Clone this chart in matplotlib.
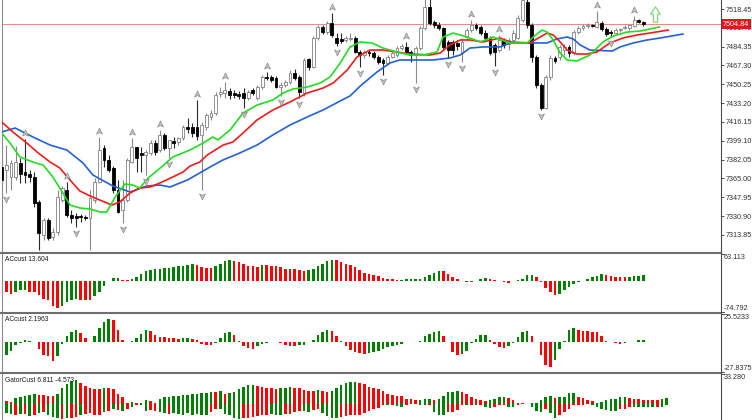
import matplotlib
matplotlib.use("Agg")
import matplotlib.pyplot as plt
from matplotlib.path import Path
from matplotlib.lines import Line2D
from matplotlib.transforms import offset_copy

plt.rcParams['font.family'] = ['Liberation Sans Narrow', 'Liberation Sans', 'DejaVu Sans']

# ---------------- price bars ----------------
opens = [
    7375.5, 7372.8, 7366.4, 7366.4, 7379.1, 7370.9, 7369.1, 7366.4, 7343.8, 7313.9,
    7327.5, 7312.1, 7316.6, 7345.6, 7354.6, 7332.0, 7331.1, 7331.1, 7330.2, 7329.3,
    7345.6, 7361.9, 7392.7, 7381.8, 7374.6, 7354.6, 7336.6, 7345.6, 7380.0, 7393.6,
    7388.1, 7386.3, 7388.1, 7397.2, 7390.9, 7404.4, 7392.7, 7399.0, 7398.1, 7401.7,
    7411.7, 7411.7, 7411.7, 7404.4, 7411.7, 7420.7, 7424.3, 7441.5, 7442.4, 7444.2,
    7442.4, 7441.5, 7442.4, 7437.9, 7445.2, 7437.9, 7447.9, 7456.9, 7456.9, 7456.0,
    7447.9, 7449.7, 7452.4, 7460.5, 7456.9, 7442.4, 7473.2, 7466.0, 7492.2, 7502.2,
    7497.6, 7505.8, 7492.2, 7491.3, 7490.4, 7491.3, 7492.2, 7479.5, 7476.8, 7479.5,
    7478.6, 7475.0, 7472.3, 7469.6, 7475.0, 7476.8, 7483.2, 7484.1, 7479.5, 7476.8,
    7483.2, 7501.3, 7520.3, 7506.7, 7504.0, 7501.3, 7488.6, 7488.6, 7487.7, 7478.6,
    7493.1, 7499.5, 7504.0, 7502.2, 7496.7, 7492.2, 7485.9, 7481.4, 7490.4, 7486.8,
    7490.4, 7492.2, 7508.5, 7524.8, 7504.0, 7475.0, 7449.7, 7428.9, 7456.9, 7474.1,
    7475.0, 7481.4, 7484.1, 7478.6, 7497.6, 7501.3, 7503.1, 7504.0, 7502.2, 7505.8,
    7500.4, 7497.6, 7496.7, 7499.5, 7501.3, 7501.3, 7503.1, 7508.5, 7506.7]
highs = [
    7381.8, 7395.4, 7381.8, 7394.0, 7383.6, 7400.8, 7372.7, 7370.9, 7345.6, 7329.3,
    7329.3, 7320.3, 7354.6, 7358.3, 7361.9, 7336.6, 7333.9, 7332.9, 7332.0, 7354.6,
    7365.5, 7402.6, 7395.4, 7386.3, 7376.4, 7363.7, 7363.7, 7383.6, 7401.7, 7393.6,
    7393.6, 7390.9, 7399.9, 7399.9, 7409.0, 7406.2, 7399.9, 7402.6, 7402.6, 7413.5,
    7419.8, 7415.3, 7436.1, 7416.2, 7424.3, 7427.1, 7443.3, 7447.9, 7452.4, 7447.0,
    7445.2, 7444.2, 7447.0, 7445.2, 7447.0, 7449.7, 7458.7, 7461.4, 7458.7, 7457.8,
    7452.4, 7454.2, 7463.3, 7464.2, 7458.7, 7474.1, 7474.1, 7494.0, 7504.0, 7504.0,
    7507.6, 7514.8, 7496.7, 7496.7, 7494.0, 7496.7, 7494.0, 7481.4, 7481.4, 7481.4,
    7480.4, 7476.8, 7474.1, 7476.8, 7480.4, 7485.0, 7486.8, 7488.6, 7481.4, 7485.0,
    7503.1, 7529.3, 7528.4, 7508.5, 7506.7, 7502.2, 7490.4, 7490.4, 7490.4, 7492.2,
    7501.3, 7508.5, 7505.8, 7504.0, 7499.5, 7494.0, 7487.7, 7494.9, 7492.2, 7492.2,
    7499.5, 7513.0, 7531.1, 7531.1, 7505.8, 7476.8, 7451.5, 7458.7, 7476.8, 7475.9,
    7485.9, 7486.8, 7485.9, 7499.5, 7503.1, 7504.9, 7505.8, 7504.9, 7516.6, 7507.6,
    7502.2, 7499.5, 7501.3, 7501.3, 7504.0, 7504.9, 7512.1, 7509.4, 7507.6]
lows = [
    7359.2, 7351.9, 7354.6, 7363.7, 7361.0, 7361.0, 7361.9, 7339.3, 7300.4, 7309.4,
    7309.4, 7309.4, 7313.9, 7343.8, 7330.2, 7324.8, 7321.2, 7325.7, 7327.5, 7300.4,
    7342.9, 7361.0, 7375.5, 7370.9, 7351.9, 7333.8, 7324.8, 7343.8, 7379.1, 7370.9,
    7370.9, 7368.2, 7386.3, 7386.3, 7389.0, 7390.9, 7383.6, 7392.7, 7395.4, 7399.9,
    7406.2, 7402.6, 7399.9, 7354.6, 7409.0, 7418.0, 7422.5, 7438.8, 7437.9, 7437.0,
    7437.9, 7437.0, 7428.9, 7436.1, 7440.6, 7436.1, 7446.1, 7454.2, 7452.4, 7447.0,
    7439.7, 7447.9, 7450.6, 7454.2, 7437.9, 7439.7, 7463.3, 7465.1, 7490.4, 7495.8,
    7495.8, 7493.1, 7485.0, 7487.7, 7488.6, 7489.5, 7478.6, 7466.0, 7474.1, 7475.9,
    7473.2, 7468.7, 7458.7, 7467.8, 7474.1, 7475.0, 7481.4, 7477.7, 7470.5, 7451.5,
    7481.4, 7499.5, 7504.0, 7501.3, 7499.5, 7481.4, 7474.1, 7476.8, 7481.4, 7470.5,
    7490.4, 7497.6, 7499.5, 7494.9, 7490.4, 7476.8, 7466.9, 7479.5, 7483.2, 7481.4,
    7488.6, 7491.3, 7506.7, 7501.3, 7470.5, 7447.0, 7427.0, 7428.0, 7454.2, 7469.6,
    7472.3, 7476.8, 7475.0, 7476.8, 7495.8, 7499.5, 7501.3, 7502.2, 7501.3, 7498.5,
    7494.0, 7493.1, 7494.9, 7497.6, 7500.4, 7499.5, 7502.2, 7505.8, 7503.1]
closes = [
    7363.7, 7377.3, 7379.1, 7380.0, 7369.1, 7368.2, 7366.4, 7342.9, 7315.7, 7327.5,
    7311.2, 7316.6, 7348.3, 7356.5, 7332.0, 7329.3, 7329.3, 7330.2, 7329.3, 7347.4,
    7361.9, 7390.9, 7381.8, 7372.7, 7354.6, 7334.7, 7345.6, 7381.8, 7393.6, 7383.6,
    7386.3, 7389.0, 7397.2, 7389.0, 7404.4, 7392.7, 7399.9, 7397.2, 7401.7, 7411.7,
    7409.9, 7406.2, 7403.5, 7413.5, 7422.5, 7424.3, 7440.6, 7443.3, 7445.2, 7440.6,
    7440.6, 7439.7, 7437.9, 7443.3, 7442.4, 7447.9, 7456.9, 7456.0, 7454.2, 7447.9,
    7449.7, 7452.4, 7460.5, 7456.0, 7443.3, 7472.3, 7466.0, 7492.2, 7502.2, 7497.6,
    7505.8, 7494.9, 7487.7, 7489.5, 7492.2, 7492.2, 7479.5, 7476.8, 7479.5, 7478.6,
    7475.0, 7470.5, 7469.6, 7475.0, 7478.6, 7483.2, 7485.0, 7479.5, 7476.8, 7483.2,
    7501.3, 7520.3, 7505.8, 7504.0, 7501.3, 7484.1, 7481.4, 7481.4, 7485.0, 7488.6,
    7499.5, 7504.0, 7501.3, 7496.7, 7492.2, 7478.6, 7479.5, 7490.4, 7485.9, 7490.4,
    7496.7, 7510.3, 7526.6, 7504.0, 7475.0, 7449.7, 7428.9, 7456.9, 7474.1, 7471.4,
    7484.1, 7484.1, 7478.6, 7497.6, 7501.3, 7503.1, 7504.0, 7503.5, 7506.7, 7500.4,
    7495.8, 7496.7, 7499.5, 7500.4, 7502.2, 7504.0, 7508.5, 7506.7, 7504.84]
last_price = 7504.84
price_ticks = [7518.45, 7501.40, 7484.35, 7467.30, 7450.25, 7433.20, 7416.15,
               7399.10, 7382.05, 7365.00, 7347.95, 7330.90, 7313.85]

up_fractals = [5, 14, 21, 28, 34, 42, 48, 57, 71, 87, 101, 107, 128, 136]
down_fractals = [1, 16, 19, 26, 31, 36, 43, 52, 60, 64, 72, 77, 82, 89, 96, 99,
                 106, 116, 131]
signal_bar, signal_price = 140.5, 7514.3

# ---------------- alligator lines ----------------
jaw_bars = [0, 2.9, 6.7, 10.4, 14.0, 17.5, 19.6, 23.9, 27.6, 31.2, 34.0, 36.2, 39.9,
            42.6, 44.8, 47.6, 51.2, 54.9, 58.3, 62.0, 65.7, 69.1, 72.8, 74.9, 77.1,
            80.7, 83.5, 85.6, 92.8, 96.4, 98.6, 100.7, 103.5, 107.2, 109.3, 117.3,
            119.4, 121.6, 122.9, 124.4, 126.5, 131.3, 133.0, 135.8, 138.8, 141.6, 146.5]
jaw_vals = [7407.1, 7410.7, 7402.6, 7395.3, 7390.8, 7379.0, 7368.2, 7358.2, 7352.8,
            7358.2, 7359.1, 7357.3, 7363.6, 7370.0, 7375.4, 7381.8, 7388.1, 7395.3,
            7404.4, 7413.4, 7420.7, 7427.0, 7435.2, 7439.7, 7448.7, 7461.4, 7469.6,
            7472.3, 7472.3, 7474.1, 7476.8, 7483.1, 7484.1, 7484.1, 7487.7, 7487.7,
            7491.3, 7493.1, 7491.3, 7485.9, 7481.3, 7480.4, 7484.1, 7487.7, 7490.4,
            7492.2, 7495.8]
teeth_bars = [0, 2.4, 5.4, 7.6, 10.4, 12.5, 14.7, 16.8, 19.0, 21.1, 23.7, 25.4, 27.6,
              29.7, 31.9, 34.0, 36.8, 39.0, 40.5, 42.6, 44.2, 47.6, 49.7, 51.9, 54.9,
              58.3, 62.0, 65.7, 69.1, 71.3, 74.3, 76.4, 79.2, 82.0, 85.0, 87.8, 92.1,
              94.3, 96.4, 98.6, 100.7, 103.5, 107.2, 109.3, 113.6, 115.8, 117.3, 118.6,
              120.1, 121.6, 123.7, 125.9, 128.0, 130.8, 133.6, 136.6, 139.4, 143.3]
teeth_vals = [7416.2, 7407.1, 7397.1, 7389.0, 7379.9, 7374.5, 7363.6, 7353.7, 7349.2,
              7345.5, 7341.0, 7343.7, 7351.9, 7356.4, 7357.3, 7360.9, 7366.4, 7370.9,
              7376.3, 7379.9, 7386.3, 7395.3, 7398.0, 7406.2, 7418.0, 7427.0, 7434.3,
              7442.4, 7446.9, 7451.5, 7463.2, 7475.0, 7481.3, 7481.3, 7479.5, 7477.7,
              7476.8, 7478.6, 7485.9, 7490.4, 7490.4, 7488.6, 7492.2, 7488.6, 7487.7,
              7493.1, 7496.7, 7494.9, 7488.6, 7481.3, 7477.7, 7477.7, 7479.5, 7487.7,
              7492.2, 7494.9, 7496.7, 7499.4]
lips_bars = [0, 1.8, 3.9, 6.7, 8.9, 11.0, 13.0, 14.7, 16.8, 19.0, 21.1, 22.6, 24.4,
             26.5, 28.2, 29.7, 31.5, 33.6, 36.8, 40.5, 43.3, 45.4, 46.5, 49.1, 51.9,
             54.9, 58.3, 60.5, 62.6, 65.7, 68.5, 70.6, 72.8, 74.9, 77.1, 79.6, 82.0,
             85.0, 87.8, 90.6, 93.6, 94.9, 97.1, 100.1, 102.9, 105.7, 109.3, 113.0,
             114.3, 116.2, 117.3, 118.6, 120.1, 121.6, 123.7, 126.5, 129.3, 131.5,
             134.5, 137.3, 141.4]
lips_vals = [7406.2, 7397.1, 7384.5, 7379.9, 7377.2, 7366.4, 7352.8, 7341.0, 7338.3,
             7337.4, 7334.7, 7334.7, 7348.3, 7360.0, 7359.1, 7356.4, 7365.5, 7372.7,
             7384.5, 7390.8, 7397.1, 7402.6, 7399.9, 7408.9, 7424.3, 7431.5, 7436.1,
             7442.4, 7446.0, 7447.8, 7451.5, 7456.9, 7469.6, 7484.1, 7488.6, 7487.7,
             7483.1, 7479.5, 7476.8, 7476.8, 7479.5, 7493.1, 7496.7, 7493.1, 7488.6,
             7493.1, 7487.7, 7487.7, 7493.1, 7499.4, 7497.6, 7490.4, 7478.6, 7472.3,
             7471.4, 7476.8, 7488.6, 7494.0, 7497.6, 7498.5, 7502.2]

# ---------------- oscillators ----------------
ac1_vals = [
    -26.2, -27.7, -30.1, -26.2, -22.2, -21.5, -26.2, -27.0, -34.1, -42.0,
    -46.0, -60.2, -63.4, -59.4, -49.9, -46.0, -43.6, -44.4, -45.2, -46.0,
    -35.7, -26.2, -11.9, -0.8, 7.1, 7.9, 2.4, 1.6, 5.5, 9.5,
    15.1, 23.0, 26.9, 27.7, 29.3, 30.1, 31.7, 33.3, 34.9, 35.7,
    38.8, 39.6, 38.8, 33.3, 31.7, 30.9, 35.7, 39.6, 48.3, 49.1,
    48.3, 45.2, 41.2, 35.7, 34.9, 34.1, 37.3, 36.5, 35.7, 34.9,
    33.3, 29.3, 28.5, 27.7, 25.4, 23.8, 26.9, 29.3, 35.7, 41.2,
    46.8, 50.7, 49.9, 45.2, 41.2, 37.3, 33.3, 25.4, 19.8, 15.1,
    13.5, 11.1, 7.9, 5.5, 4.0, 2.4, 2.5, 3.2, 4.0, 4.8,
    5.5, 9.5, 13.5, 19.8, 23.8, 23.0, 15.1, 9.5, 3.2, 0.0,
    -2.4, -1.6, 0.0, 3.2, 7.9, 5.5, 2.4, 0.0, -1.6, -4.0,
    -0.8, 1.6, 5.5, 13.5, 14.3, 9.5, -2.4, -18.2, -26.2, -32.5,
    -30.1, -20.6, -14.3, -7.1, -2.4, 0.8, 4.0, 9.5, 11.9, 15.1,
    13.5, 11.9, 9.5, 8.7, 8.3, 9.5, 11.1, 11.9, 13.6]
ac1_cols = ("rrrgggrrrr" "rrrggggrrr" "ggggggrrgg" "gggggggggg" "ggrrrrgggg"
            "rrrrrrgrrr" "rrrrrrgggg" "ggrrrrrrrr" "rrrrrrgggg" "gggggrrrrr"
            "rggggrrrrr" "gggggrrrrr" "gggggggggg" "rrrrrgggg")

ac2_vals = [
    -19.3, -11.7, -8.0, -2.5, -0.9, 1.5, 0.9, 0.0, -6.1, -11.7,
    -13.2, -17.8, -13.2, -1.8, 5.2, 9.2, 10.7, 8.3, 3.7, 0.0,
    5.2, 12.9, 18.1, 21.5, 20.5, 11.3, 2.1, 0.0, 0.6, 3.7,
    7.7, 10.7, 10.4, 6.1, 4.6, 4.3, 4.0, 3.7, 3.1, 3.4,
    3.7, 2.8, 1.5, -1.5, -2.5, -2.8, -0.6, 3.7, 8.3, 9.2,
    6.7, 0.6, -4.0, -5.5, -6.1, -4.0, -1.8, -0.6, 0.0, -0.3,
    -1.2, -3.1, -3.4, -3.7, -3.1, -2.5, -0.3, 2.1, 6.1, 9.2,
    11.3, 10.4, 5.2, 0.6, -4.0, -7.1, -9.5, -10.1, -11.0, -10.1,
    -9.2, -8.0, -6.1, -4.9, -4.0, -2.5, -1.5, -0.3, -0.15, 0.3,
    0.9, 5.2, 7.7, 9.2, 9.8, 5.2, 0.0, -9.2, -11.7, -11.0,
    -8.0, -1.2, 3.1, 6.1, 6.7, 2.1, -1.8, -4.9, -5.5, -4.0,
    -0.9, 4.3, 9.2, 9.8, 5.2, 0.0, -11.7, -20.9, -23.3, -16.3,
    -6.1, 0.6, 11.3, 12.9, 11.3, 10.4, 9.8, 9.2, 8.9, 5.2,
    1.2, 0.0, -0.9, -1.8, -1.2, -0.3, 0.3, 1.5, 2.2]
ac2_cols = ("rgggggrrrr" "rrgggggrrr" "ggggrrrrgg" "ggrrrrrrrg" "grrrrrgggg"
            "rrrrrggggr" "rrrrgggggg" "grrrrrrrrg" "ggggggggrg" "gggggrrrrg"
            "gggggrrrrg" "ggggrrrrrg" "ggggrrrrrr" "rrrrggggg")

gator_up = [
    3.7, 2.6, 1.8, 6.2, 7.3, 8.4, 9.9, 11.0, 9.9, 10.2,
    9.2, 9.2, 11.0, 18.3, 22.0, 25.6, 26.7, 23.8, 20.1, 17.6,
    17.2, 16.8, 18.3, 17.6, 16.5, 11.0, 7.3, 1.1, 1.8, 0.7,
    1.3, 3.7, 2.6, 1.1, 4.8, 7.3, 7.5, 8.4, 9.2, 9.9,
    10.2, 11.0, 11.2, 12.1, 12.3, 13.5, 12.8, 14.6, 11.0, 12.1,
    12.8, 16.5, 19.4, 20.9, 21.0, 20.1, 19.4, 18.3, 18.2, 17.2,
    17.4, 18.3, 19.0, 18.3, 18.2, 15.7, 14.6, 14.5, 15.7, 13.9,
    13.5, 14.6, 18.3, 21.2, 23.8, 24.9, 25.0, 23.8, 22.0, 19.4,
    18.3, 16.5, 13.9, 11.0, 9.9, 9.2, 8.4, 5.5, 4.8, 3.7,
    4.4, 4.8, 5.5, 3.7, 5.5, 8.4, 12.8, 12.8, 14.6, 12.8,
    11.0, 7.3, 4.8, 3.7, 2.6, 3.7, 4.8, 7.3, 7.4, 6.2,
    3.7, 0.7, 0.3, 0.2, 0.3, 1.1, 3.7, 7.3, 9.2, 6.2,
    7.3, 7.4, 11.7, 12.1, 7.3, 6.2, 4.4, 2.6, 1.1, 1.8,
    3.7, 5.5, 5.6, 7.3, 7.4, 6.2, 5.5, 4.8, 4.75, 4.7,
    4.65, 4.6, 5.8, 6.8]
gator_up_cols = ("grrgggggrr" "rrgggggrrr" "rrgrrrrrgr" "ggrrgggggg" "ggggggrgrg"
                 "gggggrrrrr" "gggrrrrrgr" "rggggggrrr" "rrrrrrrrrr" "gggrgggggr"
                 "rrrrrggggr" "rrrrrggggr" "ggggrrrrrg" "gggggrrrrr" "rrgg")
gator_dn = [
    -9.9, -11.0, -11.1, -12.8, -12.1, -12.1, -13.9, -12.8, -11.0, -9.2,
    -12.8, -14.6, -16.5, -17.2, -16.5, -16.5, -14.6, -12.8, -12.1, -11.0,
    -12.8, -12.8, -9.2, -8.4, -6.2, -7.3, -8.4, -6.2, -3.7, -1.1,
    -1.8, -8.4, -7.3, -8.4, -9.9, -11.0, -12.1, -11.0, -12.1, -12.8,
    -11.0, -12.8, -12.1, -12.8, -12.8, -9.2, -6.2, -6.2, -12.1, -12.8,
    -15.7, -17.2, -16.5, -15.7, -14.6, -13.5, -12.8, -12.8, -12.1, -12.8,
    -12.8, -12.1, -11.3, -9.2, -8.4, -8.4, -9.2, -7.3, -6.2, -11.0,
    -13.5, -16.5, -16.5, -14.6, -13.5, -12.8, -12.8, -12.8, -11.0, -8.4,
    -6.2, -4.8, -1.8, -1.8, -1.1, -2.9, -3.7, -1.1, -0.7, -0.4,
    -1.1, -1.8, -1.5, -9.2, -12.8, -12.8, -9.2, -9.2, -7.3, -1.8,
    -1.8, -1.8, -1.8, -1.1, -3.7, -4.8, -3.7, -1.8, -1.8, -3.7,
    -3.7, -1.8, -0.7, -0.4, -3.7, -8.4, -9.9, -5.5, -11.0, -15.7,
    -12.8, -9.2, -5.5, -1.8, -1.8, -1.1, -0.7, -1.1, -3.7, -6.2,
    -7.3, -8.4, -8.4, -5.5, -5.5, -3.7, -3.7, -3.7, -3.7, -3.7,
    -4.0, -3.7, -3.7, -1.1]
gator_dn_cols = ("gggrgrgrgr" "gggrgrrgrr" "rrgrgrgrgr" "ggrrggrggg" "gggggrrggg"
                 "ggrrrrrrgg" "grrrrggrrg" "gggrrrrrrr" "rrrgrggrrr" "ggrgggrrrr"
                 "grgrggrrrg" "grrrgggrgg" "rrrrrrrggg" "gggrrrgggg" "grgg")

# ---------------- layout (pixels) ----------------
W, H = 752, 420
PX0, STEP = 1.7, 4.65      # pixel of first bar, bar pitch
AX_L, AX_R = 2, 721
GREEN, RED = '#008000', '#ff0000'
LABEL_FS = 5.2

fig = plt.figure(figsize=(W / 100, H / 100), dpi=100)
fig.patch.set_facecolor('white')


def panel(top, bottom):
    ax = fig.add_axes([AX_L / W, 1 - bottom / H, (AX_R - AX_L) / W, (bottom - top) / H])
    ax.set_xlim((AX_L - PX0) / STEP, (AX_R - PX0) / STEP)
    for side in ('top', 'bottom', 'right'):
        ax.spines[side].set_visible(False)
    ax.spines['left'].set_color('#8c8c8c')
    ax.spines['left'].set_linewidth(0.8)
    ax.set_xticks([])
    ax.yaxis.tick_right()
    ax.tick_params(axis='y', direction='out', length=2.5, width=0.6, pad=1.2,
                   labelsize=LABEL_FS, colors='#303030')
    return ax


def edge_labels(ax, top_txt, bottom_txt=None):
    ax.set_yticks([])
    tr = offset_copy(ax.transAxes, fig=fig, x=3, units='dots')
    ax.text(1, 1, top_txt, transform=tr, ha='left', va='top', fontsize=LABEL_FS, color='#303030')
    if bottom_txt:
        ax.text(1, 0, bottom_txt, transform=tr, ha='left', va='bottom',
                fontsize=LABEL_FS, color='#303030')
    for yy in ([1, 0] if bottom_txt else [1]):
        ax.plot([1, 1.004], [yy, yy], transform=ax.transAxes, color='#303030',
                lw=0.6, clip_on=False)


# ---------------- main chart ----------------
ax = panel(0, 252.5)
ax.set_ylim(7298.0, 7526.6)
ax.set_yticks(price_ticks, labels=[f'{p:.2f}' for p in price_ticks])

idx = list(range(len(opens)))
bull = [c >= o for o, c in zip(opens, closes)]
ax.axhline(last_price, color='#e27474', lw=0.6, zorder=1)
ax.vlines(idx, lows, highs, colors=['#8a8a8a' if b else '#2a2a2a' for b in bull],
          lw=0.8, zorder=2)
ax.bar(idx, [max(abs(c - o), 0.25) for o, c in zip(opens, closes)],
       bottom=[min(o, c) for o, c in zip(opens, closes)], width=0.62,
       color=['white' if b else 'black' for b in bull],
       edgecolor=['#808080' if b else 'black' for b in bull], linewidth=0.6, zorder=3)

ax.plot(jaw_bars, jaw_vals, color='#2361d6', lw=1.2, zorder=4, solid_joinstyle='round')
ax.plot(teeth_bars, teeth_vals, color='#f01c1c', lw=1.2, zorder=4, solid_joinstyle='round')
ax.plot(lips_bars, lips_vals, color='#22dd22', lw=1.2, zorder=4, solid_joinstyle='round')

up_mark = Path([(0, 1), (0.85, -0.75), (0, -0.3), (-0.85, -0.75), (0, 1)],
               [Path.MOVETO, Path.LINETO, Path.LINETO, Path.LINETO, Path.CLOSEPOLY])
dn_mark = Path([(0, -1), (0.85, 0.75), (0, 0.3), (-0.85, 0.75), (0, -1)],
               [Path.MOVETO, Path.LINETO, Path.LINETO, Path.LINETO, Path.CLOSEPOLY])
ax.plot(up_fractals, [highs[i] for i in up_fractals], ls='none', marker=up_mark, ms=5,
        mfc='#c4c4c4', mec='#8a8a8a', mew=0.5, zorder=5,
        transform=offset_copy(ax.transData, fig=fig, y=6, units='dots'))
ax.plot(down_fractals, [lows[i] for i in down_fractals], ls='none', marker=dn_mark, ms=5,
        mfc='#c4c4c4', mec='#8a8a8a', mew=0.5, zorder=5,
        transform=offset_copy(ax.transData, fig=fig, y=-6, units='dots'))

arrow = Path([(-0.28, -1), (0.28, -1), (0.28, 0.05), (0.62, 0.05), (0, 1),
              (-0.62, 0.05), (-0.28, 0.05), (-0.28, -1)],
             [Path.MOVETO] + [Path.LINETO] * 6 + [Path.CLOSEPOLY])
ax.plot([signal_bar], [signal_price], ls='none', marker=arrow, ms=11, mfc='white',
        mec='#7ed87e', mew=0.9, zorder=6)

ax.text(1.0, last_price, f'{last_price:.2f}', fontsize=LABEL_FS, color='white',
        ha='left', va='center', zorder=10,
        transform=offset_copy(ax.get_yaxis_transform(), fig=fig, x=2, units='dots'),
        bbox=dict(boxstyle='square,pad=0.18', fc='#e01818', ec='none'))

# ---------------- indicator panels ----------------
def colors(code):
    return [GREEN if ch == 'g' else RED for ch in code]


ac1 = panel(254.3, 312.3)
ac1.set_ylim(-74.792, 63.113)
ac1.bar(idx, ac1_vals, width=0.55, color=colors(ac1_cols), lw=0)
edge_labels(ac1, '63.113', '-74.792')
ac1.text(0.004, 0.97, 'ACcust 13.604', transform=ac1.transAxes, fontsize=4.8,
         ha='left', va='top', color='#1a1a1a')

ac2 = panel(314.3, 372.3)
ac2.set_ylim(-27.8375, 25.5233)
ac2.bar(idx, ac2_vals, width=0.55, color=colors(ac2_cols), lw=0)
edge_labels(ac2, '25.5233', '-27.8375')
ac2.text(0.004, 0.97, 'ACcust 2.1963', transform=ac2.transAxes, fontsize=4.8,
         ha='left', va='top', color='#1a1a1a')

gt = panel(374.3, 420)
gt.set_ylim(-18.45, 33.28)
gidx = list(range(len(gator_up)))
gt.bar(gidx, gator_up, width=0.55, color=colors(gator_up_cols), lw=0)
gt.bar(gidx, gator_dn, width=0.55, color=colors(gator_dn_cols), lw=0)
edge_labels(gt, '33.280')
gt.text(0.004, 0.95, 'GatorCust 6.811 -4.573', transform=gt.transAxes, fontsize=4.8,
        ha='left', va='top', color='#1a1a1a')

# panel separators and price-scale border
for y in (253.3, 313.3, 373.3):
    fig.add_artist(Line2D([0, AX_R / W], [1 - y / H] * 2, color='#6e6e6e', lw=1.5))
fig.add_artist(Line2D([AX_R / W] * 2, [0, 1], color='#4a4a4a', lw=0.8))

fig.savefig('out.png', dpi=100, facecolor='white')
